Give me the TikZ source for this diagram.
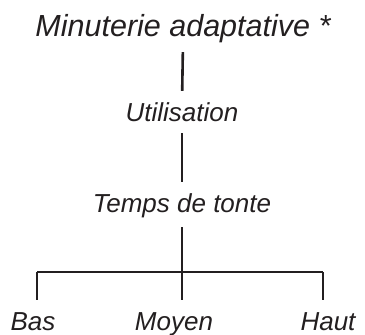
\documentclass[tikz,border=0pt]{standalone}
\usepackage{fontspec}
\setmainfont{Liberation Sans}
\usepackage{tikz}
\usetikzlibrary{positioning,calc}
\definecolor{TreeInk}{HTML}{231F20}
\tikzset{
  head/.style={anchor=base,inner sep=0pt,text height=21pt,text depth=6pt,
    font=\fontsize{30.5}{33}\selectfont\itshape,text=TreeInk},
  leaf/.style={anchor=base,inner sep=0pt,text height=18pt,text depth=6pt,
    font=\fontsize{26}{29}\selectfont\itshape,text=TreeInk},
  link/.style={draw=TreeInk,line width=2.6pt}
}
\begin{document}
\begin{tikzpicture}[x=1pt,y=-1pt]
  \useasboundingbox (0,0) rectangle (365,335);
  \node[head] (title) at (183,36) {Minuterie adaptative *};
  \node[leaf] (usage) at (182,121) {Utilisation};
  \node[leaf] (mowtime) at (182,212) {Temps de tonte};
  \node[leaf] (low) at (33,330) {Bas};
  \node[leaf] (mid) at (174,330) {Moyen};
  \node[leaf] (high) at (328,330) {Haut};
  \coordinate (fork) at (182,272);
  \coordinate (forkL) at (37,272);
  \coordinate (forkR) at (323,272);
  \draw[link,shorten <=10pt,shorten >=12pt] (title.south) -- (usage.north);
  \draw[link,shorten <=6pt,shorten >=12pt] (usage.south) -- (mowtime.north);
  \draw[link,shorten <=9pt] (mowtime.south) -- (fork);
  \draw[link] (forkL) -- (forkR);
  \draw[link,shorten >=12pt] (forkL) -- (forkL |- low.north);
  \draw[link,shorten >=12pt] (fork) -- (fork |- mid.north);
  \draw[link,shorten >=12pt] (forkR) -- (forkR |- high.north);
\end{tikzpicture}
\end{document}
